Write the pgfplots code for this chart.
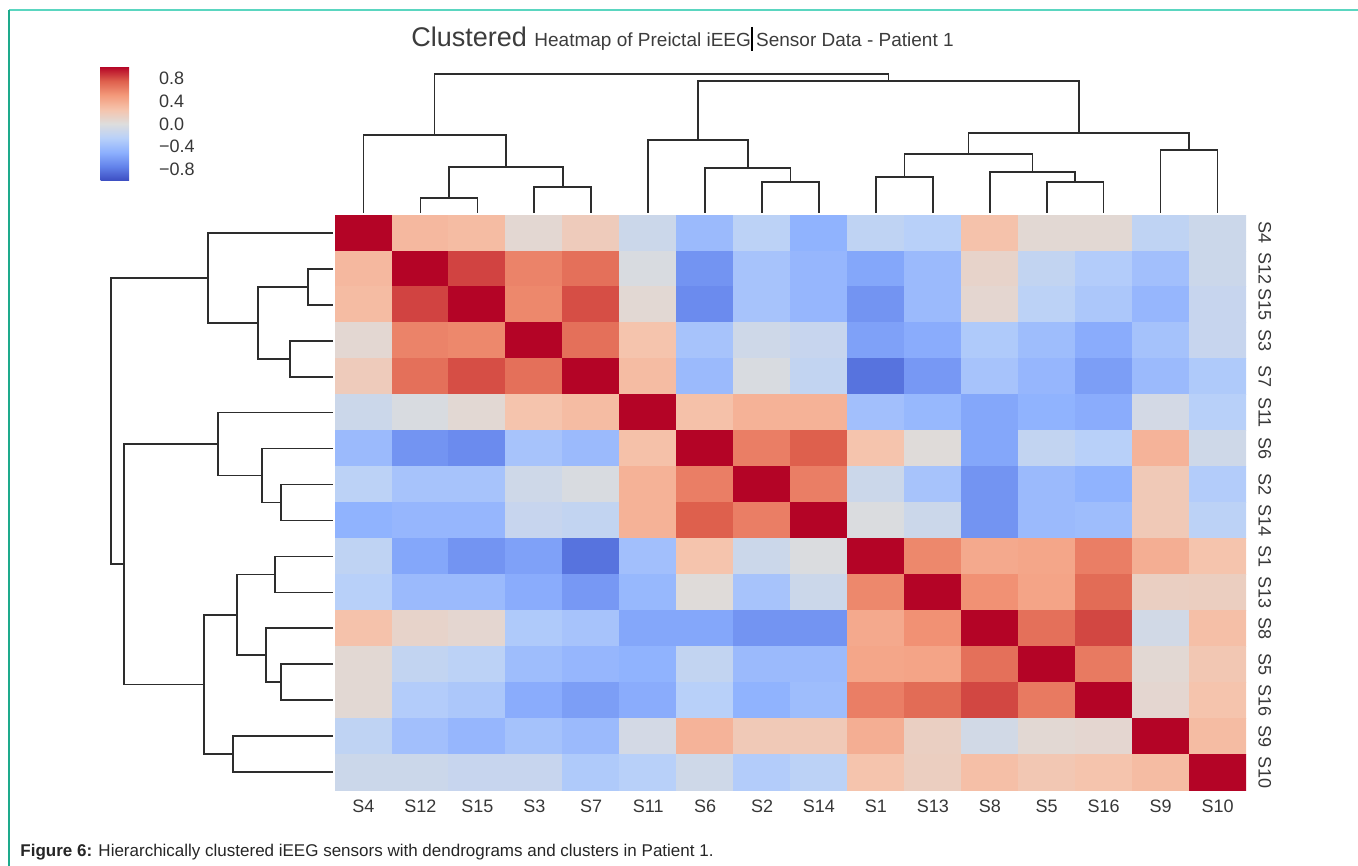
\documentclass[border=0pt]{standalone}
\usepackage{pgfplots}
\pgfplotsset{compat=1.18}
\usepackage{fontspec}
\setmainfont{Liberation Sans}
\definecolor{dgray}{RGB}{45,45,45}
\definecolor{lgray}{RGB}{55,55,55}
\definecolor{tgray}{RGB}{60,60,60}
\definecolor{tealtop}{RGB}{90,214,192}
\definecolor{tealleft}{RGB}{30,170,140}
\pgfplotsset{
  colormap={coolwarm}{rgb255(0cm)=(59,76,192); rgb255(1cm)=(98,130,234); rgb255(2cm)=(141,176,254); rgb255(3cm)=(184,208,249); rgb255(4cm)=(221,221,221); rgb255(5cm)=(245,196,173); rgb255(6cm)=(244,154,123); rgb255(7cm)=(222,96,77); rgb255(8cm)=(180,4,38)},
  dendro/.style={draw=dgray, line width=0.8pt, mark=none, forget plot},
}
\begin{document}
\begin{tikzpicture}[x=0.5pt,y=0.5pt]
\path[use as bounding box] (0,0) rectangle (1358,866);
\draw[tealtop, line width=1pt] (9,855.5) -- (1358,855.5);
\draw[tealleft, line width=0.75pt] (9,855.5) -- (9,0);

% title
\node[anchor=base west, inner sep=0, text=tgray] at (411,819) {\fontsize{13.5}{13.5}\selectfont Clustered \fontsize{9.5}{9.5}\selectfont Heatmap of Preictal iEEG Sensor Data - Patient 1};
\draw[black, line width=0.7pt] (752,839) -- (752,815);

% caption
\node[anchor=base west, inner sep=0, text=black!85] at (20,9) {\fontsize{8.5}{8.5}\selectfont\textbf{Figure 6:} Hierarchically clustered iEEG sensors with dendrograms and clusters in Patient 1.};

% heatmap
\begin{axis}[
  at={(167.5pt,38pt)}, anchor=south west,
  scale only axis, width=455.5pt, height=287.5pt,
  xmin=-0.5, xmax=15.5, ymin=-0.5, ymax=15.5,
  y dir=reverse, enlargelimits=false,
  axis line style={draw=none},
  major tick length=0pt,
  colormap name=coolwarm, point meta min=-1, point meta max=1,
  xtick={0,...,15},
  xticklabels={S4,S12,S15,S3,S7,S11,S6,S2,S14,S1,S13,S8,S5,S16,S9,S10},
  ytick={0,...,15},
  yticklabels={S4,S12,S15,S3,S7,S11,S6,S2,S14,S1,S13,S8,S5,S16,S9,S10},
  yticklabel pos=right,
  xticklabel style={font=\fontsize{9}{9}\selectfont, text=lgray, yshift=-1.5pt},
  yticklabel style={font=\fontsize{9}{9}\selectfont, text=lgray, rotate=-90, anchor=south, inner sep=0pt, yshift=6pt},
]
\addplot[matrix plot*, mesh/cols=16, point meta=explicit] coordinates {
(0,0)[1.00] (1,0)[0.32] (2,0)[0.30] (3,0)[0.06] (4,0)[0.18] (5,0)[-0.12] (6,0)[-0.42] (7,0)[-0.22] (8,0)[-0.48] (9,0)[-0.20] (10,0)[-0.25] (11,0)[0.26] (12,0)[0.05] (13,0)[0.05] (14,0)[-0.20] (15,0)[-0.12]

(0,1)[0.32] (1,1)[1.00] (2,1)[0.83] (3,1)[0.60] (4,1)[0.68] (5,1)[-0.03] (6,1)[-0.65] (7,1)[-0.35] (8,1)[-0.45] (9,1)[-0.55] (10,1)[-0.42] (11,1)[0.10] (12,1)[-0.18] (13,1)[-0.28] (14,1)[-0.38] (15,1)[-0.12]

(0,2)[0.30] (1,2)[0.83] (2,2)[1.00] (3,2)[0.58] (4,2)[0.80] (5,2)[0.05] (6,2)[-0.70] (7,2)[-0.35] (8,2)[-0.45] (9,2)[-0.65] (10,2)[-0.42] (11,2)[0.07] (12,2)[-0.22] (13,2)[-0.32] (14,2)[-0.45] (15,2)[-0.15]

(0,3)[0.06] (1,3)[0.60] (2,3)[0.58] (3,3)[1.00] (4,3)[0.68] (5,3)[0.25] (6,3)[-0.35] (7,3)[-0.10] (8,3)[-0.15] (9,3)[-0.58] (10,3)[-0.52] (11,3)[-0.30] (12,3)[-0.40] (13,3)[-0.52] (14,3)[-0.36] (15,3)[-0.15]

(0,4)[0.18] (1,4)[0.68] (2,4)[0.80] (3,4)[0.68] (4,4)[1.00] (5,4)[0.30] (6,4)[-0.42] (7,4)[-0.03] (8,4)[-0.18] (9,4)[-0.82] (10,4)[-0.63] (11,4)[-0.35] (12,4)[-0.45] (13,4)[-0.60] (14,4)[-0.42] (15,4)[-0.30]

(0,5)[-0.12] (1,5)[-0.03] (2,5)[0.05] (3,5)[0.25] (4,5)[0.30] (5,5)[1.00] (6,5)[0.27] (7,5)[0.36] (8,5)[0.36] (9,5)[-0.38] (10,5)[-0.44] (11,5)[-0.55] (12,5)[-0.48] (13,5)[-0.52] (14,5)[-0.07] (15,5)[-0.25]

(0,6)[-0.42] (1,6)[-0.65] (2,6)[-0.70] (3,6)[-0.35] (4,6)[-0.42] (5,6)[0.27] (6,6)[1.00] (7,6)[0.62] (8,6)[0.75] (9,6)[0.25] (10,6)[0.02] (11,6)[-0.55] (12,6)[-0.18] (13,6)[-0.25] (14,6)[0.35] (15,6)[-0.10]

(0,7)[-0.22] (1,7)[-0.35] (2,7)[-0.35] (3,7)[-0.10] (4,7)[-0.03] (5,7)[0.36] (6,7)[0.62] (7,7)[1.00] (8,7)[0.62] (9,7)[-0.12] (10,7)[-0.35] (11,7)[-0.65] (12,7)[-0.42] (13,7)[-0.48] (14,7)[0.20] (15,7)[-0.28]

(0,8)[-0.48] (1,8)[-0.45] (2,8)[-0.45] (3,8)[-0.15] (4,8)[-0.18] (5,8)[0.36] (6,8)[0.75] (7,8)[0.62] (8,8)[1.00] (9,8)[-0.02] (10,8)[-0.12] (11,8)[-0.65] (12,8)[-0.42] (13,8)[-0.40] (14,8)[0.20] (15,8)[-0.22]

(0,9)[-0.20] (1,9)[-0.55] (2,9)[-0.65] (3,9)[-0.58] (4,9)[-0.82] (5,9)[-0.38] (6,9)[0.25] (7,9)[-0.12] (8,9)[-0.02] (9,9)[1.00] (10,9)[0.58] (11,9)[0.41] (12,9)[0.43] (13,9)[0.62] (14,9)[0.38] (15,9)[0.25]

(0,10)[-0.25] (1,10)[-0.42] (2,10)[-0.42] (3,10)[-0.52] (4,10)[-0.63] (5,10)[-0.44] (6,10)[0.02] (7,10)[-0.35] (8,10)[-0.12] (9,10)[0.58] (10,10)[1.00] (11,10)[0.54] (12,10)[0.44] (13,10)[0.70] (14,10)[0.14] (15,10)[0.15]

(0,11)[0.26] (1,11)[0.10] (2,11)[0.07] (3,11)[-0.30] (4,11)[-0.35] (5,11)[-0.55] (6,11)[-0.55] (7,11)[-0.65] (8,11)[-0.65] (9,11)[0.41] (10,11)[0.54] (11,11)[1.00] (12,11)[0.68] (13,11)[0.82] (14,11)[-0.08] (15,11)[0.28]

(0,12)[0.05] (1,12)[-0.18] (2,12)[-0.22] (3,12)[-0.40] (4,12)[-0.45] (5,12)[-0.48] (6,12)[-0.18] (7,12)[-0.42] (8,12)[-0.42] (9,12)[0.43] (10,12)[0.44] (11,12)[0.68] (12,12)[1.00] (13,12)[0.64] (14,12)[0.05] (15,12)[0.22]

(0,13)[0.05] (1,13)[-0.28] (2,13)[-0.32] (3,13)[-0.52] (4,13)[-0.60] (5,13)[-0.52] (6,13)[-0.25] (7,13)[-0.48] (8,13)[-0.40] (9,13)[0.62] (10,13)[0.70] (11,13)[0.82] (12,13)[0.64] (13,13)[1.00] (14,13)[0.07] (15,13)[0.25]

(0,14)[-0.20] (1,14)[-0.38] (2,14)[-0.45] (3,14)[-0.36] (4,14)[-0.42] (5,14)[-0.07] (6,14)[0.35] (7,14)[0.20] (8,14)[0.20] (9,14)[0.38] (10,14)[0.14] (11,14)[-0.08] (12,14)[0.05] (13,14)[0.07] (14,14)[1.00] (15,14)[0.30]

(0,15)[-0.12] (1,15)[-0.12] (2,15)[-0.15] (3,15)[-0.15] (4,15)[-0.30] (5,15)[-0.25] (6,15)[-0.10] (7,15)[-0.28] (8,15)[-0.22] (9,15)[0.25] (10,15)[0.15] (11,15)[0.28] (12,15)[0.22] (13,15)[0.25] (14,15)[0.30] (15,15)[1.00]
};
\end{axis}

% top dendrogram
\begin{axis}[
  at={(167.5pt,326.5pt)}, anchor=south west,
  scale only axis, width=455.5pt, height=69.5pt,
  xmin=-0.5, xmax=15.5, ymin=0, ymax=139,
  hide axis, clip=false,
]
\addplot[dendro] coordinates {(1,0) (1,15) (2,15) (2,0)};
\addplot[dendro] coordinates {(3,0) (3,26) (4,26) (4,0)};
\addplot[dendro] coordinates {(1.5,15) (1.5,46) (3.5,46) (3.5,26)};
\addplot[dendro] coordinates {(0,0) (0,78) (2.5,78) (2.5,46)};
\addplot[dendro] coordinates {(7,0) (7,31) (8,31) (8,0)};
\addplot[dendro] coordinates {(6,0) (6,45) (7.5,45) (7.5,31)};
\addplot[dendro] coordinates {(5,0) (5,73) (6.75,73) (6.75,45)};
\addplot[dendro] coordinates {(9,0) (9,36) (10,36) (10,0)};
\addplot[dendro] coordinates {(12,0) (12,31) (13,31) (13,0)};
\addplot[dendro] coordinates {(11,0) (11,41) (12.5,41) (12.5,31)};
\addplot[dendro] coordinates {(9.5,36) (9.5,59) (11.75,59) (11.75,41)};
\addplot[dendro] coordinates {(14,0) (14,63) (15,63) (15,0)};
\addplot[dendro] coordinates {(10.625,59) (10.625,80) (14.5,80) (14.5,63)};
\addplot[dendro] coordinates {(5.875,73) (5.875,132) (12.5625,132) (12.5625,80)};
\addplot[dendro] coordinates {(1.25,78) (1.25,139) (9.21875,139) (9.21875,132)};
\end{axis}

% left dendrogram
\begin{axis}[
  at={(55.5pt,38pt)}, anchor=south west,
  scale only axis, width=111pt, height=287.5pt,
  xmin=0, xmax=222, x dir=reverse,
  ymin=-0.5, ymax=15.5, y dir=reverse,
  hide axis, clip=false,
]
\addplot[dendro] coordinates {(0,1) (25,1) (25,2) (0,2)};
\addplot[dendro] coordinates {(0,3) (43,3) (43,4) (0,4)};
\addplot[dendro] coordinates {(25,1.5) (75,1.5) (75,3.5) (43,3.5)};
\addplot[dendro] coordinates {(0,0) (125,0) (125,2.5) (75,2.5)};
\addplot[dendro] coordinates {(0,7) (52,7) (52,8) (0,8)};
\addplot[dendro] coordinates {(0,6) (71,6) (71,7.5) (52,7.5)};
\addplot[dendro] coordinates {(0,5) (115,5) (115,6.75) (71,6.75)};
\addplot[dendro] coordinates {(0,9) (58,9) (58,10) (0,10)};
\addplot[dendro] coordinates {(0,12) (52,12) (52,13) (0,13)};
\addplot[dendro] coordinates {(0,11) (67,11) (67,12.5) (52,12.5)};
\addplot[dendro] coordinates {(58,9.5) (96,9.5) (96,11.75) (67,11.75)};
\addplot[dendro] coordinates {(0,14) (100,14) (100,15) (0,15)};
\addplot[dendro] coordinates {(96,10.625) (129,10.625) (129,14.5) (100,14.5)};
\addplot[dendro] coordinates {(115,5.875) (209,5.875) (209,12.5625) (129,12.5625)};
\addplot[dendro] coordinates {(125,1.25) (222,1.25) (222,9.21875) (209,9.21875)};
\end{axis}

% colorbar
\begin{axis}[
  at={(50.35pt,342.5pt)}, anchor=south west,
  scale only axis, width=22.65pt, height=57.15pt,
  xmin=0, xmax=1, ymin=0, ymax=1,
  hide axis,
  colormap name=coolwarm, point meta min=-1, point meta max=1,
  colorbar,
  colorbar style={
    at={(0,0)}, anchor=south west,
    scale only axis, width=22.65pt, height=57.15pt,
    axis line style={draw=none},
    major tick length=0pt,
    ytick={-0.8,-0.4,0,0.4,0.8},
    yticklabels={−0.8,−0.4,0.0,0.4,0.8},
    yticklabel style={font=\fontsize{9}{9}\selectfont, text=lgray, xshift=3pt},
  },
]
\addplot[draw=none] coordinates {(0,0)};
\end{axis}
\end{tikzpicture}
\end{document}
